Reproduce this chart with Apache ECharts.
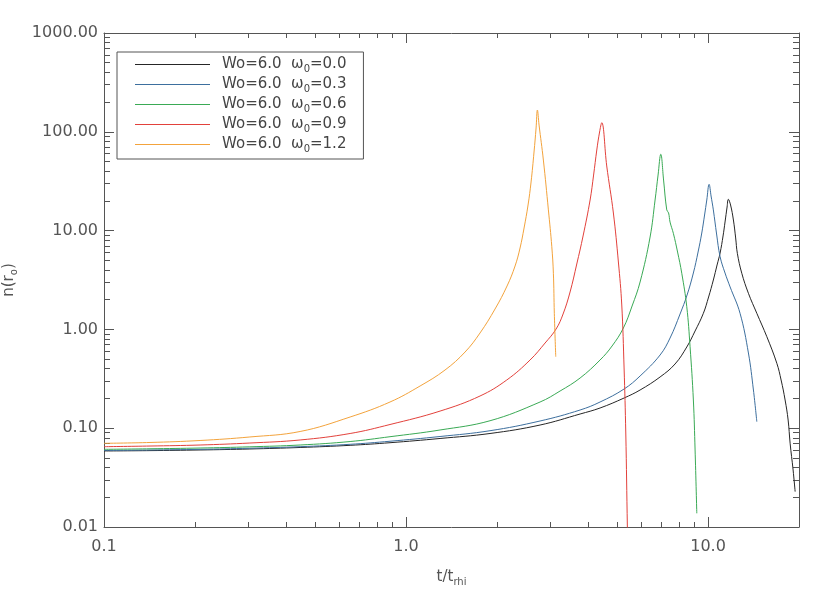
<!DOCTYPE html>
<html>
<head>
<meta charset="utf-8">
<script src="https://cdn.jsdelivr.net/npm/echarts@6/dist/echarts.min.js"></script>
<style>
    html, body { margin: 0; padding: 0; background: #fff; }
    #chart { width: 830px; height: 593px; }
</style>
</head>
<body>
<div id="chart"></div>
<script>
    // curves: t/t_rhi and n(r_o) for each omega_0
    var t00 = [0.1, 0.142, 0.208, 0.304, 0.446, 0.653, 0.885, 1.296, 1.897, 2.778, 3.769, 4.389, 5.271, 5.955, 6.936, 7.774, 8.501, 9.057, 9.647, 10.04, 10.41, 10.71, 10.96, 11.21, 11.38, 11.56, 11.67,
               11.87, 12.13, 12.34, 12.50, 12.93, 13.60, 14.50, 15.65, 16.89, 17.45, 17.99, 18.41, 18.69, 19.12, 19.42];
    var n00 = [0.0588, 0.0593, 0.0602, 0.0616, 0.0638, 0.0671, 0.0713, 0.0787, 0.0884, 0.1077, 0.1392, 0.1601, 0.2021, 0.2435, 0.330, 0.4465, 0.6635, 0.9634, 1.455, 2.128, 3.162, 4.486, 5.933, 8.818, 12.22, 17.33, 20.74,
               18.16, 12.8, 8.42, 5.89, 3.70, 2.32, 1.455, 0.8435, 0.4539, 0.3075, 0.193, 0.121, 0.0704, 0.0378, 0.0228];

    var t03 = [0.1, 0.142, 0.208, 0.304, 0.446, 0.653, 0.885, 1.296, 1.897, 2.778, 3.769, 4.389, 5.271, 5.955, 6.936, 7.484, 8.077, 8.520, 8.939, 9.266, 9.531, 9.736, 9.902, 10.08,
               10.23, 10.41, 10.67, 10.96, 11.38, 11.83, 12.76, 13.60, 14.13, 14.50];
    var n03 = [0.0595, 0.0602, 0.0611, 0.0627, 0.065, 0.0687, 0.0738, 0.0824, 0.0943, 0.1183, 0.1528, 0.1841, 0.2493, 0.3376, 0.5506, 0.818, 1.432, 2.229, 3.723, 6.07, 9.456, 14.38, 20.4, 29.4,
               22.4, 16.2, 9.24, 5.44, 3.72, 2.69, 1.455, 0.577, 0.2435, 0.1164];

    var t06 = [0.1, 0.142, 0.208, 0.304, 0.446, 0.653, 0.885, 1.296, 1.897, 2.778, 3.236, 3.769, 4.389, 4.810, 5.243, 5.603, 5.955, 6.427, 6.676, 6.830, 6.973,
               7.123, 7.298, 7.399, 7.484, 7.674, 7.925, 8.183, 8.501, 8.717, 8.939, 9.057, 9.176];
    var n06 = [0.0611, 0.0619, 0.0630, 0.0648, 0.0676, 0.0733, 0.082, 0.0959, 0.119, 0.1841, 0.2379, 0.322, 0.490, 0.6792, 1.033, 1.725, 3.018, 8.61, 20.4, 36.5, 59.2,
               32.5, 16.2, 15.1, 12.2, 9.39, 6.07, 3.70, 1.697, 0.668, 0.193, 0.0602, 0.01376];

    var t09 = [0.1, 0.142, 0.208, 0.304, 0.446, 0.653, 0.885, 1.296, 1.758, 2.155, 2.574, 2.886, 3.139, 3.311, 3.492, 3.675, 3.856, 4.068, 4.178, 4.281, 4.373, 4.446,
               4.618, 4.858, 5.047, 5.179, 5.271, 5.340, 5.405, 5.418];
    var n09 = [0.065, 0.066, 0.0676, 0.0708, 0.076, 0.0884, 0.109, 0.149, 0.2118, 0.3075, 0.490, 0.728, 1.009, 1.432, 2.391, 4.59, 8.82, 20.4, 36.5, 65.4, 99.5, 123.6,
               45.1, 15.07, 4.81, 1.766, 0.407, 0.0894, 0.0100, 0.0074];

    var t12 = [0.1, 0.142, 0.208, 0.304, 0.446, 0.653, 0.885, 1.113, 1.346, 1.568, 1.758, 1.971, 2.160, 2.296, 2.385, 2.459, 2.535, 2.594, 2.653, 2.695, 2.722,
               2.757, 2.849, 2.960, 3.038, 3.075, 3.097, 3.131];
    var n12 = [0.0703, 0.0717, 0.0751, 0.0815, 0.0926, 0.1298, 0.1841, 0.2674, 0.388, 0.590, 0.920, 1.609, 2.75, 4.383, 6.667, 10.62, 18.16, 31.04, 62.44, 109.3, 166,
               117, 51.8, 16.2, 6.87, 3.70, 1.455, 0.529];

    var omegas = ['0.0', '0.3', '0.6', '0.9', '1.2'];
    var colors = ['#262626', '#3d6f9e', '#3aaa55', '#e2413b', '#f3a33c'];

    // tick positions
    var xMajor = [0.1, 1, 10];
    var xMinor = [0.2, 0.3, 0.4, 0.5, 0.6, 0.7, 0.8, 0.9, 2, 3, 4, 5, 6, 7, 8, 9];
    var yMajor = [0.01, 0.1, 1, 10, 100, 1000];
    var yMinor = [0.02, 0.03, 0.04, 0.05, 0.06, 0.07, 0.08, 0.09,
                  0.2, 0.3, 0.4, 0.5, 0.6, 0.7, 0.8, 0.9,
                  2, 3, 4, 5, 6, 7, 8, 9,
                  20, 30, 40, 50, 60, 70, 80, 90,
                  200, 300, 400, 500, 600, 700, 800, 900];

    var curves = [[t00, n00], [t03, n03], [t06, n06], [t09, n09], [t12, n12]];
    var axisColor = '#555';
    var font = 'DejaVu Sans';

    function isDecade(v) {
        var l = Math.log10(v);
        return Math.abs(l - Math.round(l)) < 1e-6;
    }

    function xAx(pos, ticks, len, showLine, showLabel) {
        return {
            type: 'log', logBase: 10, min: 0.1, max: 20, position: pos,
            axisLine: { show: showLine, onZero: false, lineStyle: { color: axisColor, width: 1 } },
            axisTick: { show: true, inside: true, length: len, customValues: ticks, lineStyle: { color: axisColor } },
            axisLabel: {
                show: showLabel, customValues: xMajor, margin: 12,
                color: axisColor, fontFamily: font, fontSize: 16,
                formatter: function (v) { return isDecade(v) ? v.toFixed(1) : ''; }
            },
            splitLine: { show: false }, minorTick: { show: false }
        };
    }
    function yAx(pos, ticks, len, showLine, showLabel) {
        return {
            type: 'log', logBase: 10, min: 0.01, max: 1000, position: pos,
            axisLine: { show: showLine, onZero: false, lineStyle: { color: axisColor, width: 1 } },
            axisTick: { show: true, inside: true, length: len, customValues: ticks, lineStyle: { color: axisColor } },
            axisLabel: {
                show: showLabel, customValues: yMajor, margin: 6,
                color: axisColor, fontFamily: font, fontSize: 16,
                formatter: function (v) { return isDecade(v) ? v.toFixed(2) : ''; }
            },
            splitLine: { show: false }, minorTick: { show: false }
        };
    }

    var xAxes = [xAx('bottom', xMajor, 10, true, true), xAx('bottom', xMinor, 5, false, false),
                 xAx('top', xMajor, 10, true, false), xAx('top', xMinor, 5, false, false)];
    xAxes[0].name = 't/t{sub|rhi}';
    xAxes[0].nameLocation = 'middle';
    xAxes[0].nameGap = 40;
    xAxes[0].nameTextStyle = {
        color: axisColor, fontFamily: font, fontSize: 15,
        rich: { sub: { fontSize: 10, fontFamily: font, color: axisColor, padding: [10, 0, 0, 0] } }
    };

    var yAxes = [yAx('left', yMajor, 10, true, true), yAx('left', yMinor, 6, false, false),
                 yAx('right', yMajor, 10, true, false), yAx('right', yMinor, 6, false, false)];
    yAxes[0].name = 'n(r{sub|o})';
    yAxes[0].nameLocation = 'middle';
    yAxes[0].nameGap = 85;
    yAxes[0].nameTextStyle = {
        color: axisColor, fontFamily: font, fontSize: 15,
        rich: { sub: { fontSize: 10, fontFamily: font, color: axisColor, padding: [10, 0, 0, 0] } }
    };

    var series = [];
    for (var i = 0; i < curves.length; i++) {
        var pts = [];
        for (var j = 0; j < curves[i][0].length; j++) {
            pts.push([curves[i][0][j], curves[i][1][j]]);
        }
        series.push({
            name: 'Wo=6.0  ω0=' + omegas[i],
            type: 'line',
            xAxisIndex: 0, yAxisIndex: 0,
            data: pts,
            symbol: 'none',
            smooth: 0.4,
            clip: true,
            color: colors[i],
            lineStyle: { width: 1, color: colors[i] }
        });
    }

    var myChart = echarts.init(document.getElementById('chart'));
    myChart.setOption({
        animation: false,
        backgroundColor: '#fff',
        grid: { left: 104, right: 31, top: 33, bottom: 66, containLabel: false, outerBoundsMode: 'none' },
        legend: {
            orient: 'vertical', left: 117, top: 52,
            padding: [5, 17, 5, 18],
            borderColor: axisColor, borderWidth: 1,
            icon: 'rect', itemWidth: 75, itemHeight: 1, itemGap: 3,
            data: series.map(function (s) { return s.name; }),
            formatter: function (name) { return name.replace('ω0', 'ω{sub|0}'); },
            textStyle: {
                color: '#444', fontFamily: font, fontSize: 15, padding: [0, 0, 0, 7],
                rich: { sub: { fontSize: 10, fontFamily: font, color: '#444', padding: [9, 0, 0, 0] } }
            }
        },
        xAxis: xAxes,
        yAxis: yAxes,
        series: series
    });
</script>
</body>
</html>
